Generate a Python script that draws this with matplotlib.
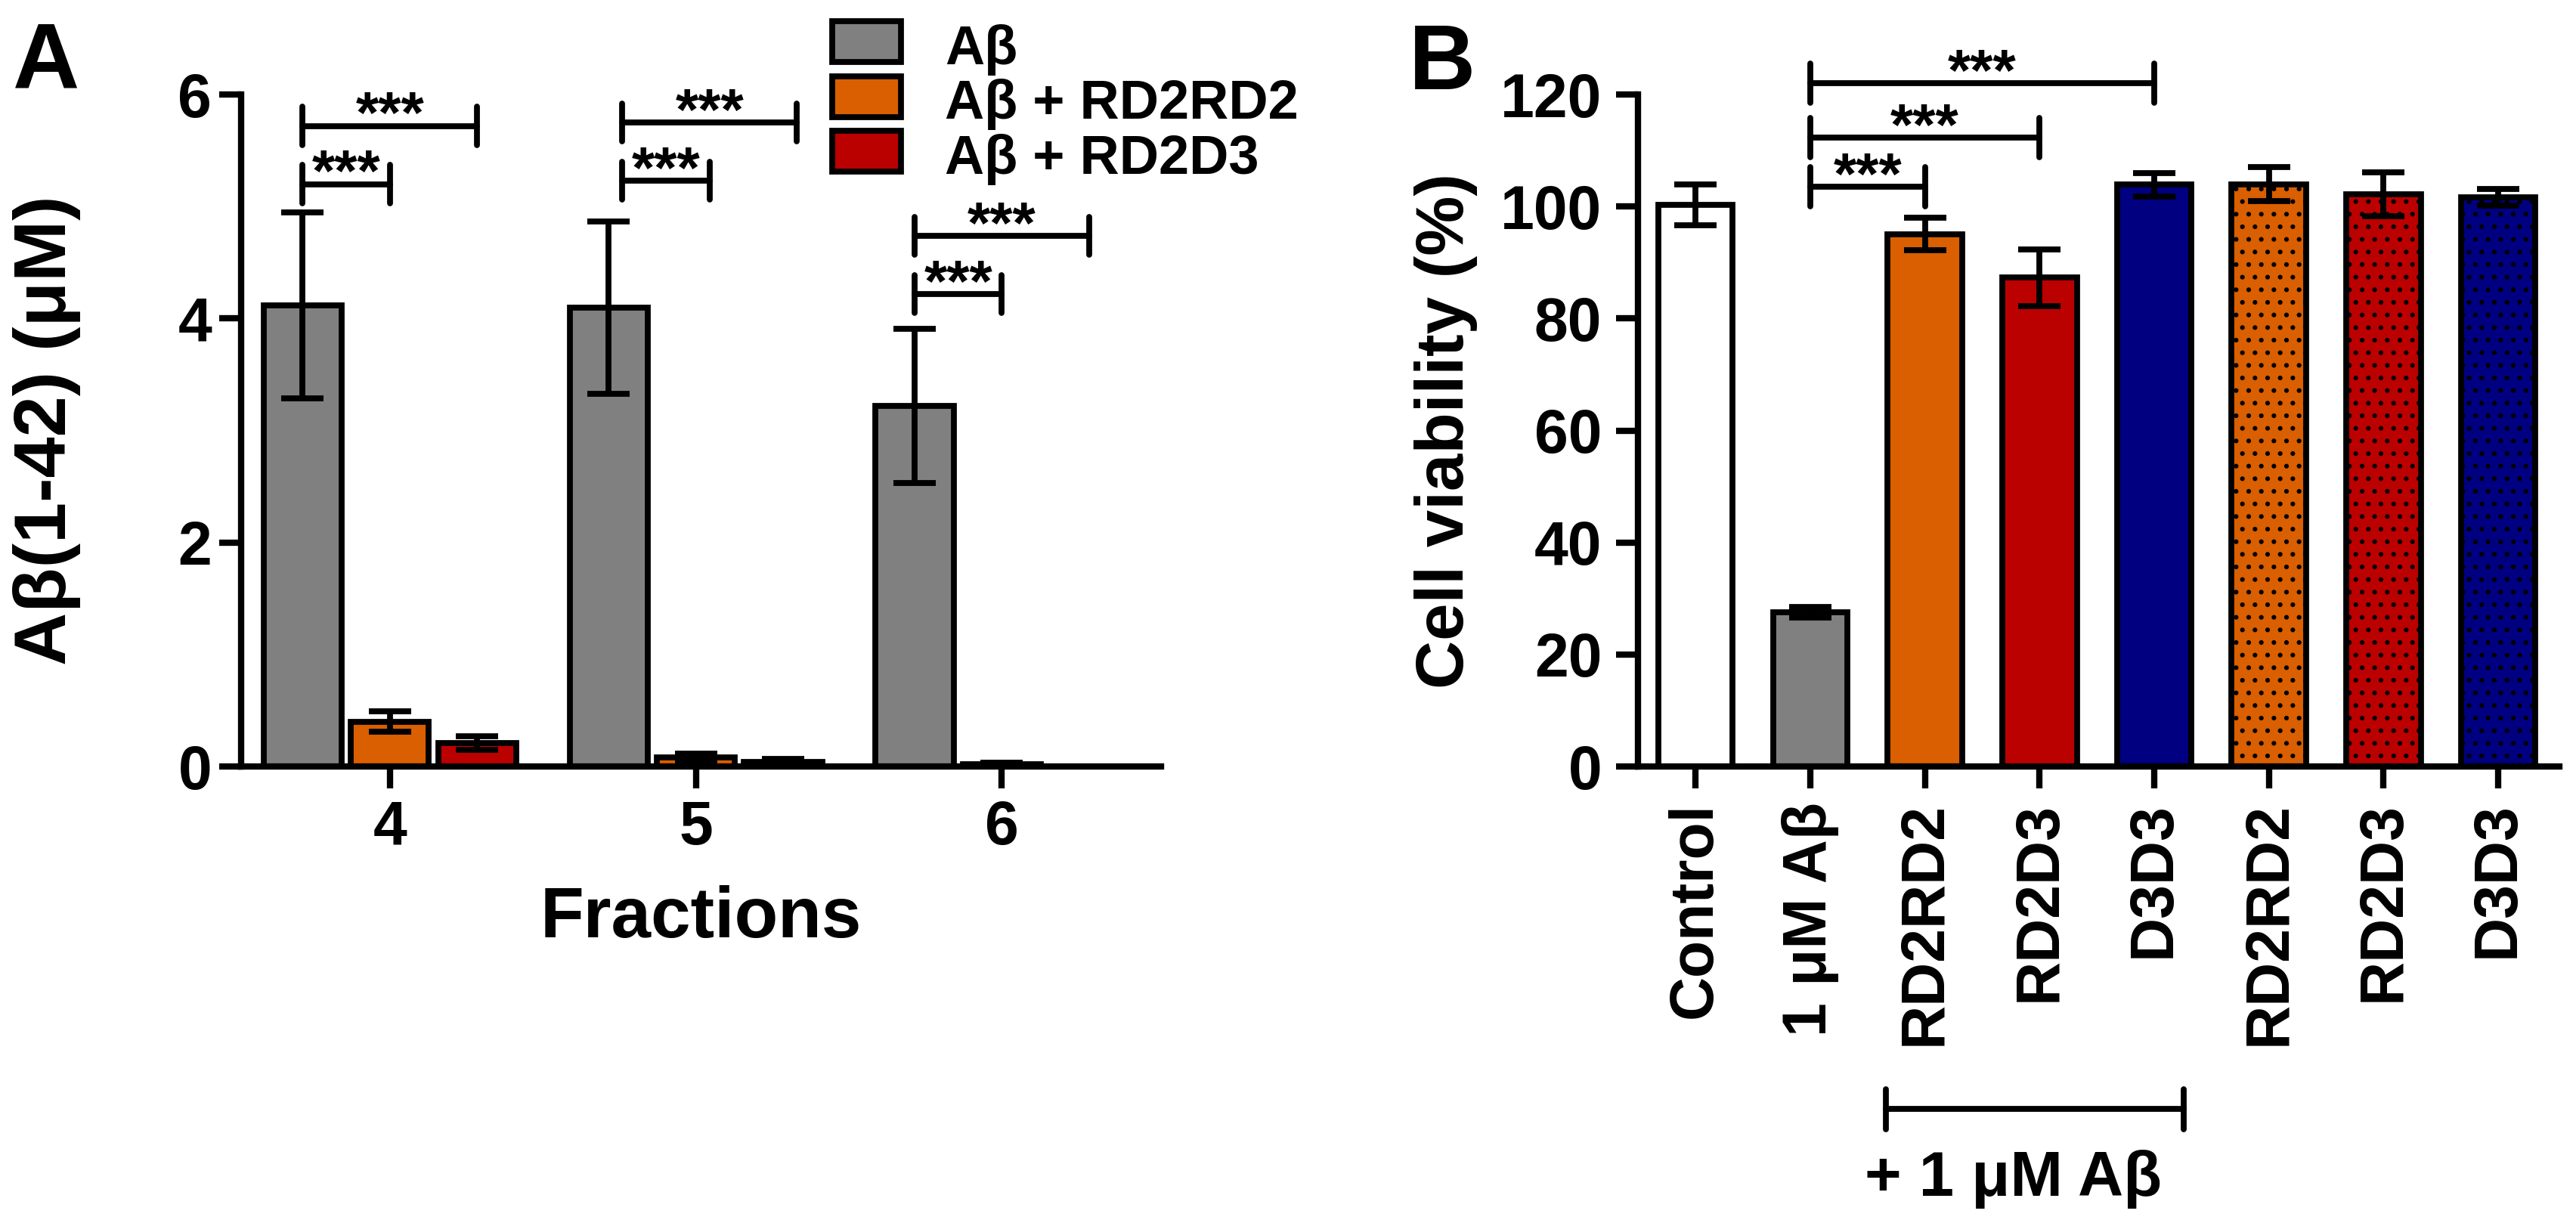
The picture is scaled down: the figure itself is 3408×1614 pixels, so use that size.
import matplotlib
matplotlib.use("Agg")
import matplotlib.pyplot as plt
import matplotlib.transforms as mtransforms
from matplotlib.patches import Rectangle
import numpy as np

plt.rcParams['font.family'] = ['Liberation Sans', 'DejaVu Sans']
plt.rcParams['font.weight'] = 'bold'
plt.rcParams['axes.labelweight'] = 'bold'

# --- Panel A: Aβ(1-42) per fraction ---
fractions = ['4', '5', '6']
series_a = ['Aβ', 'Aβ + RD2RD2', 'Aβ + RD2D3']
abeta_mean = [4.12, 4.10, 3.22]
abeta_err = [0.83, 0.77, 0.69]
rd2rd2_mean = [0.40, 0.08, 0.02]
rd2rd2_err = [0.09, 0.035, 0.015]
rd2d3_mean = [0.21, 0.04, 0.003]
rd2d3_err = [0.06, 0.03, 0.0]
colors_a = ['#808080', '#D95F00', '#BB0000']

# significance brackets in A: (fraction index, series from, series to, height)
sig_a = [(0, 0, 1, 5.20), (0, 0, 2, 5.72),
         (1, 0, 1, 5.23), (1, 0, 2, 5.75),
         (2, 0, 1, 4.22), (2, 0, 2, 4.74)]
# the brackets of fraction 5 sit a little to the right in the original
sig_a_shift = [0.0, 0.045, 0.0]

# --- Panel B: cell viability ---
conditions = ['Control', '1 μM Aβ', 'RD2RD2', 'RD2D3', 'D3D3', 'RD2RD2', 'RD2D3', 'D3D3']
viability = [100.3, 27.6, 95.1, 87.3, 103.9, 104.0, 102.2, 101.7]
viability_err = [3.6, 0.95, 2.9, 5.1, 2.1, 3.0, 3.9, 1.5]
colors_b = ['white', '#808080', '#D95F00', '#BB0000', '#000080', '#D95F00', '#BB0000', '#000080']
hatches_b = ['', '', '', '', '', '..', '..', '..']
# significance brackets in B: (bar from, bar to, height)
sig_b = [(1, 2, 103.5), (1, 3, 112.3), (1, 4, 122.0)]

LW = 2.8
fig = plt.figure(figsize=(17.04, 8.07), dpi=200)
ax_a = fig.add_axes([0.0936, 0.3717, 0.3571, 0.5508])
ax_b = fig.add_axes([0.6359, 0.3717, 0.3577, 0.5508])


def bracket(ax, x1, x2, y, cap, text='***'):
    kw = dict(color='k', lw=LW, clip_on=False, solid_capstyle='round')
    ax.plot([x1, x2], [y, y], **kw)
    ax.plot([x1, x1], [y - cap, y + cap], **kw)
    ax.plot([x2, x2], [y - cap, y + cap], **kw)
    ax.annotate(text, xy=((x1 + x2) / 2, y), xytext=(0, -3.5), textcoords='offset points',
                ha='center', va='baseline', fontsize=28, fontweight='bold', annotation_clip=False)


def style_axes(ax):
    for side in ['top', 'right']:
        ax.spines[side].set_visible(False)
    for side in ['left', 'bottom']:
        ax.spines[side].set_linewidth(3)


# Panel A
x = np.arange(len(fractions)) + 4
offset = 0.285
width = 0.255
means = [abeta_mean, rd2rd2_mean, rd2d3_mean]
errs = [abeta_err, rd2rd2_err, rd2d3_err]
for i in range(3):
    xi = x + (i - 1) * offset
    ax_a.bar(xi, means[i], width, color=colors_a[i], edgecolor='k', linewidth=LW, zorder=2)
    ax_a.errorbar(xi, means[i], yerr=errs[i], fmt='none', ecolor='k', elinewidth=LW,
                  capsize=10, capthick=LW, zorder=3, clip_on=False)

for g, s1, s2, h in sig_a:
    sh = sig_a_shift[g]
    bracket(ax_a, x[g] + (s1 - 1) * offset + sh, x[g] + (s2 - 1) * offset + sh, h, 0.17)

style_axes(ax_a)
ax_a.set_xlim(3.514, 6.52)
ax_a.set_ylim(0, 6)
ax_a.set_yticks([0, 2, 4, 6])
ax_a.set_xticks(x)
ax_a.set_xticklabels(fractions)
ax_a.tick_params(axis='both', length=10.4, width=3, labelsize=29)
ax_a.tick_params(axis='y', pad=3.6)
ax_a.tick_params(axis='x', pad=5.4)
ax_a.set_ylabel('Aβ(1-42) (μM)', fontsize=35)
ax_a.yaxis.set_label_coords(-0.174, 0.5)
ax_a.set_xlabel('Fractions', fontsize=34)
ax_a.xaxis.set_label_coords(0.5, -0.177)

# legend for panel A, placed by hand above the plot
for i, (name, c) in enumerate(zip(series_a, colors_a)):
    top = 24 + 72.5 * i
    fig.add_artist(Rectangle((1101 / 3408, 1 - (top + 58) / 1614), 91 / 3408, 54 / 1614,
                             transform=fig.transFigure, facecolor=c, edgecolor='k', linewidth=LW))
    fig.text(1250 / 3408, 1 - (top + 61) / 1614, name, fontsize=26, fontweight='bold', va='baseline')

# Panel B
xb = np.arange(len(conditions))
bars = ax_b.bar(xb, viability, 0.65, color=colors_b, edgecolor='k', linewidth=LW, zorder=2)
for b, h in zip(bars, hatches_b):
    if h:
        b.set_hatch(h)
ax_b.errorbar(xb, viability, yerr=viability_err, fmt='none', ecolor='k', elinewidth=LW,
              capsize=10, capthick=LW, zorder=3)

for b1, b2, h in sig_b:
    bracket(ax_b, xb[b1], xb[b2], h, 3.5)

style_axes(ax_b)
ax_b.set_xlim(-0.501, 7.535)
ax_b.set_ylim(0, 120)
ax_b.set_yticks(range(0, 121, 20))
ax_b.set_xticks(xb)
ax_b.set_xticklabels(conditions, rotation=90)
ax_b.tick_params(axis='both', length=10.4, width=3, labelsize=29)
ax_b.tick_params(axis='y', pad=6.8)
ax_b.tick_params(axis='x', pad=6.5)
ax_b.set_ylabel('Cell viability (%)', fontsize=32)
ax_b.yaxis.set_label_coords(-0.174, 0.5)

# "+ 1 μM Aβ" group bracket under the treated bars
trans = mtransforms.blended_transform_factory(ax_b.transData, ax_b.transAxes)
kw = dict(color='k', lw=LW, clip_on=False, transform=trans, solid_capstyle='round')
ax_b.plot([1.66, 4.26], [-0.510, -0.510], **kw)
ax_b.plot([1.66, 1.66], [-0.540, -0.480], **kw)
ax_b.plot([4.26, 4.26], [-0.540, -0.480], **kw)
ax_b.text(2.77, -0.614, '+ 1 μM Aβ', transform=trans, ha='center', va='center',
          fontsize=30, fontweight='bold')

fig.text(17 / 3408, 1 - 117 / 1614, 'A', fontsize=44, fontweight='bold', va='baseline')
fig.text(1864 / 3408, 1 - 118 / 1614, 'B', fontsize=44, fontweight='bold', va='baseline')

fig.savefig('out.png', dpi=200)
